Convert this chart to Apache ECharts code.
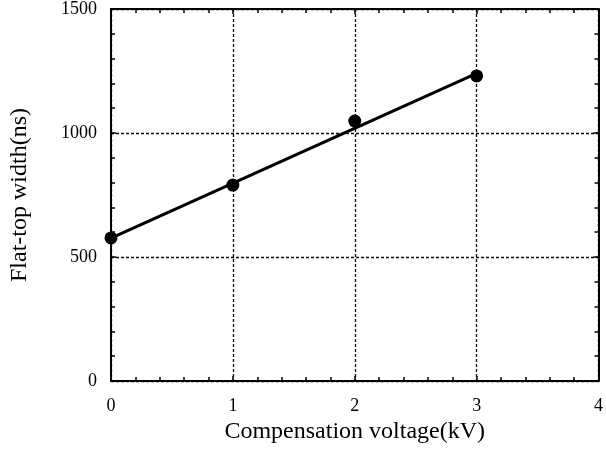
<!DOCTYPE html>
<html>
<head>
<meta charset="utf-8">
<script src="https://cdn.jsdelivr.net/npm/echarts@6/dist/echarts.min.js"></script>
<style>
  html, body { margin: 0; padding: 0; background: #fff; }
  #chart { width: 606px; height: 450px; }
</style>
</head>
<body>
<div id="chart"></div>
<script>
  // measured points
  const voltage = [0, 1, 2, 3];
  const flatTop = [577, 790, 1048, 1230];
  // linear fit line (end points)
  const fitX = [0, 3];
  const fitY = [576, 1240];

  const xTicks = [0, 1, 2, 3, 4];
  const yTicks = [0, 500, 1000, 1500];

  const font = 'Liberation Serif, Times New Roman, serif';

  const chart = echarts.init(document.getElementById('chart'));

  const baseX = {
    type: 'value', min: 0, max: 4, interval: 1,
    axisLine: { show: true, onZero: false, lineStyle: { color: '#000', width: 2 } },
    axisTick: { show: true, inside: true, length: 5, lineStyle: { color: '#000', width: 1.5 } },
    minorTick: { show: true, splitNumber: 5, length: 4, lineStyle: { color: '#000', width: 1.5 } },
    splitLine: { show: false }
  };
  const baseY = {
    type: 'value', min: 0, max: 1500, interval: 500,
    axisLine: { show: true, onZero: false, lineStyle: { color: '#000', width: 2 } },
    axisTick: { show: true, inside: true, length: 5, lineStyle: { color: '#000', width: 1.5 } },
    minorTick: { show: true, splitNumber: 5, length: 4, lineStyle: { color: '#000', width: 1.5 } },
    splitLine: { show: false }
  };

  const option = {
    animation: false,
    grid: { left: 111, right: 3, top: 9, bottom: 69, containLabel: false },
    xAxis: [
      Object.assign({}, baseX, {
        position: 'bottom',
        name: 'Compensation voltage(kV)',
        nameLocation: 'middle',
        nameGap: 36,
        nameTextStyle: { fontFamily: font, fontSize: 24, color: '#000' },
        axisLabel: {
          fontFamily: font, fontSize: 18, color: '#000', margin: 16,
          formatter: v => xTicks.includes(v) ? String(v) : ''
        },
        splitLine: { show: true, lineStyle: { color: '#000', type: [3, 2], width: 1.3 } }
      }),
      Object.assign({}, baseX, { position: 'top', axisLabel: { show: false } })
    ],
    yAxis: [
      Object.assign({}, baseY, {
        position: 'left',
        name: 'Flat-top width(ns)',
        nameLocation: 'middle',
        nameGap: 79,
        nameTextStyle: { fontFamily: font, fontSize: 24, color: '#000' },
        axisLabel: {
          fontFamily: font, fontSize: 18, color: '#000', margin: 14,
          formatter: v => yTicks.includes(v) ? String(v) : ''
        },
        splitLine: { show: true, lineStyle: { color: '#000', type: [3, 2], width: 1.3 } }
      }),
      Object.assign({}, baseY, { position: 'right', axisLabel: { show: false } })
    ],
    series: [
      {
        type: 'line',
        data: fitX.map((x, i) => [x, fitY[i]]),
        showSymbol: false,
        lineStyle: { color: '#000', width: 3 },
        z: 3
      },
      {
        type: 'scatter',
        data: voltage.map((x, i) => [x, flatTop[i]]),
        symbol: 'circle',
        symbolSize: 13,
        itemStyle: { color: '#000', opacity: 1 },
        z: 4
      }
    ]
  };

  chart.setOption(option);
</script>
</body>
</html>
